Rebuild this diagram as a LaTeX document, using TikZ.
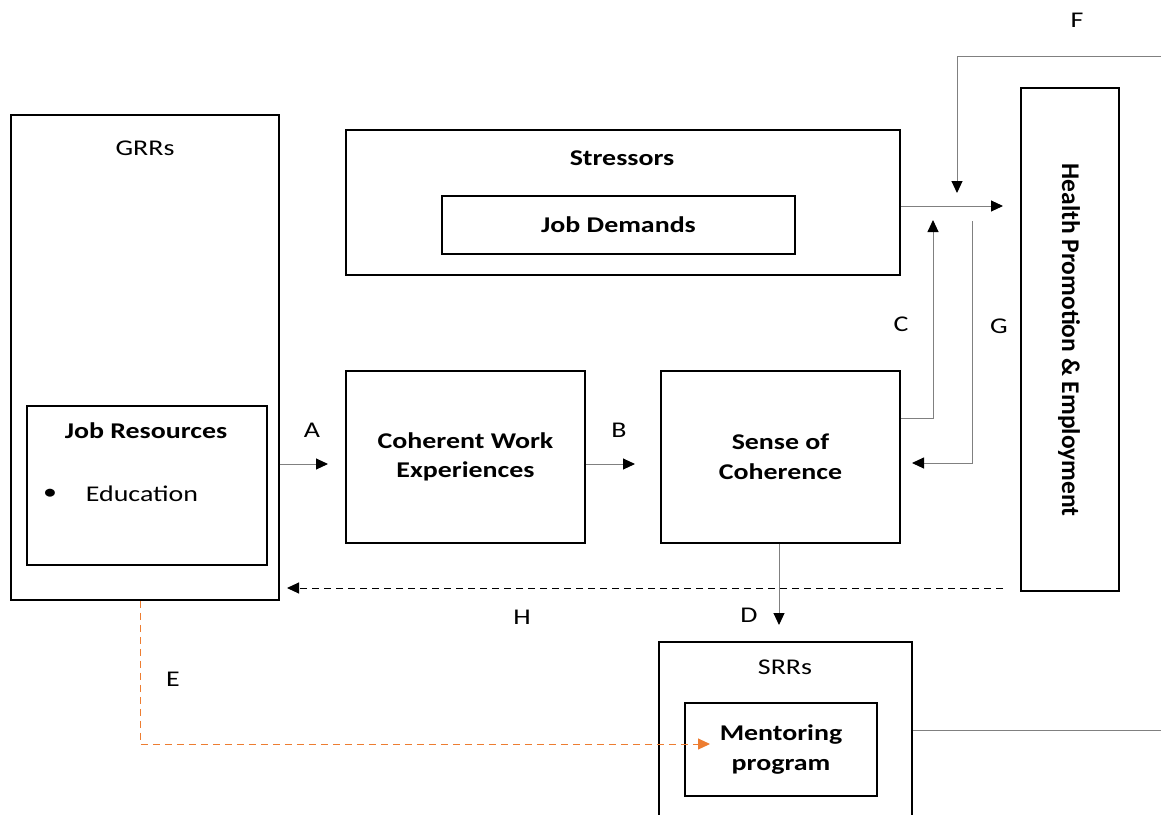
\documentclass[tikz,border=0pt]{standalone}
\usepackage{fontspec}
\setmainfont{Carlito}[FakeStretch=1.24]
\newfontfamily\rotfont{Carlito}
\usetikzlibrary{arrows.meta}
\definecolor{orangeE}{HTML}{ED7D31}
\definecolor{lineg}{HTML}{808080}
\begin{document}
\begin{tikzpicture}[x=1pt,y=-1pt,
  box/.style={draw=black,line width=1.8pt,inner sep=0pt,align=center,font=\fontsize{22.5}{29.5}\selectfont\bfseries},
  conn/.style={draw=lineg,line width=1pt},
  tip/.style={-{Triangle[black,length=12pt,width=11pt]}},
  otip/.style={-{Triangle[orangeE,length=12pt,width=11pt]}},
  lbl/.style={font=\fontsize{22.5}{26}\selectfont,inner sep=0pt},
  blbl/.style={font=\fontsize{22.5}{29.5}\selectfont\bfseries,align=center,inner sep=0pt}]
\useasboundingbox (0,0) rectangle (1161,814);
\clip (0,0) rectangle (1161,814);
\fill[white] (0,0) rectangle (1161,814);
% boxes
\node[box,minimum width=268,minimum height=485] (grr) at (145,357.5) {};
\node[lbl] (grrl) at (145,148) {GRRs};
\node[box,minimum width=240,minimum height=159] (jr) at (147,485.5) {};
\node[blbl] (jrl) at (146,431) {Job Resources};
\node[lbl] (bul) at (50,494) {\textbullet};
\node[lbl] (edu) at (142,494) {Education};
\node[box,minimum width=554,minimum height=145] (str) at (623,202.5) {};
\node[blbl] (strl) at (622,158) {Stressors};
\node[box,minimum width=353,minimum height=58] (jd) at (618.5,225) {Job Demands};
\node[box,minimum width=239,minimum height=172] (cwe) at (465.5,457) {Coherent Work\\Experiences};
\node[box,minimum width=239,minimum height=172] (soc) at (780.5,457) {Sense of\\Coherence};
\node[box,minimum width=98,minimum height=503] (hpe) at (1070,339.5) {};
\node[inner sep=0pt,rotate=-90,font=\rotfont\fontsize{25.5}{30}\selectfont\bfseries] (hpel) at (1069,340) {Health Promotion \& Employment};
\node[box,minimum width=253,minimum height=190] (srr) at (785.5,737) {};
\node[lbl] (srrl) at (785,667) {SRRs};
\node[box,minimum width=192,minimum height=93] (men) at (781,749.5) {Mentoring\\program};
% coordinates
\coordinate (a1) at (328,464);
\coordinate (b1) at (635,464);
\coordinate (s1) at (1003,206);
\coordinate (f0) at (1161,56);
\coordinate (f1) at (957,193);
\coordinate (c0) at (900,418);
\coordinate (c1) at (933,220);
\coordinate (g0) at (972,221);
\coordinate (g1) at (912,463);
\coordinate (d1) at (779,625);
\coordinate (h0) at (1003,588);
\coordinate (h1) at (287,588);
\coordinate (e1) at (140,744);
\coordinate (e2) at (710,744);
\coordinate (r1) at (1161,730);
% connectors
\draw[conn,tip] (grr.east |- a1) -- (a1);
\draw[conn,tip] (cwe.east |- b1) -- (b1);
\draw[conn,tip] (str.east |- s1) -- (s1);
\draw[conn,tip] (f0) -| (f1);
\draw[conn,tip] (soc.east |- c0) -| (c1);
\draw[conn,tip] (g0) |- (g1);
\draw[conn,tip] (soc.south -| d1) -- (d1);
\draw[conn,draw=black,tip,dash pattern=on 7pt off 5pt] (h0) -- (h1);
\draw[conn,draw=orangeE,otip,dash pattern=on 7pt off 5pt] (grr.south -| e1) -- (e1) -- (e2);
\draw[conn] (srr.east |- r1) -- (r1);
% labels
\node[lbl] (la) at (312,430) {A};
\node[lbl] (lb) at (619,430) {B};
\node[lbl] (lc) at (901,324) {C};
\node[lbl] (lg) at (999,326) {G};
\node[lbl] (ld) at (749,615) {D};
\node[lbl] (lh) at (522,617) {H};
\node[lbl] (le) at (173,679) {E};
\node[lbl] (lf) at (1077,20) {F};
\end{tikzpicture}
\end{document}
